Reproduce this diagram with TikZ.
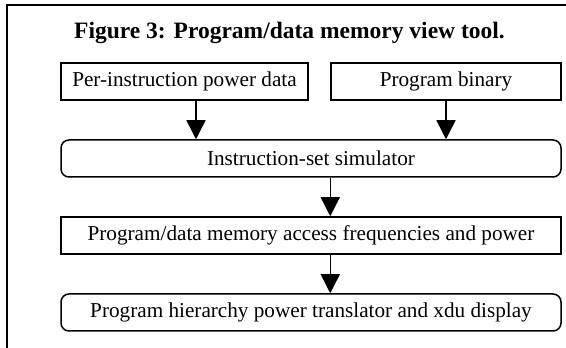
\documentclass[tikz,border=0pt]{standalone}
\usepackage{fontspec}
\setmainfont{Liberation Serif}
\usetikzlibrary{arrows.meta}

\begin{document}
\begin{tikzpicture}[x=1pt, y=1pt,
  blk/.style={draw, line width=1.5pt, minimum height=37pt, inner sep=0pt,
    font=\fontsize{21.2}{25}\selectfont},
  rblk/.style={blk, rounded corners=8pt},
  flow/.style={line width=1.5pt, -{Triangle[width=19pt, length=19pt]}}]
\def\rowgap{77}
\useasboundingbox (0,0) rectangle (566,348);

% Frame (open to the right and below)
\draw[line width=2pt] (566,343) -- (6.5,343) -- (6.5,0);

% Title
\node[font=\fontsize{23.5}{28}\selectfont\bfseries] (title) at (289.5,315.5) {Figure 3: Program/data memory view tool.};

% Inputs
\node[blk, minimum width=247pt] (power) at (184.5,266.5) {Per-instruction power data};
\node[blk, minimum width=230pt] (binary) at (446,266.5) {Program binary};

% Chain
\node[rblk, minimum width=500pt] (sim) at (311,266.5-\rowgap) {Instruction-set simulator};
\node[blk, minimum width=500pt] (freq) at (311,266.5-2*\rowgap) {Program/data memory access frequencies and power};
\node[rblk, minimum width=500pt] (xdu) at (311,266.5-3*\rowgap) {Program hierarchy power translator and xdu display};

% Arrows
\coordinate (pw) at ([xshift=11.5pt]power.south);
\draw[flow] (pw) -- (pw |- sim.north);
\draw[flow] (binary.south) -- (binary.south |- sim.north);
\draw[flow] (sim.south -| binary.west) -- (freq.north -| binary.west);
\draw[flow] (freq.south -| binary.west) -- (xdu.north -| binary.west);

\end{tikzpicture}
\end{document}
